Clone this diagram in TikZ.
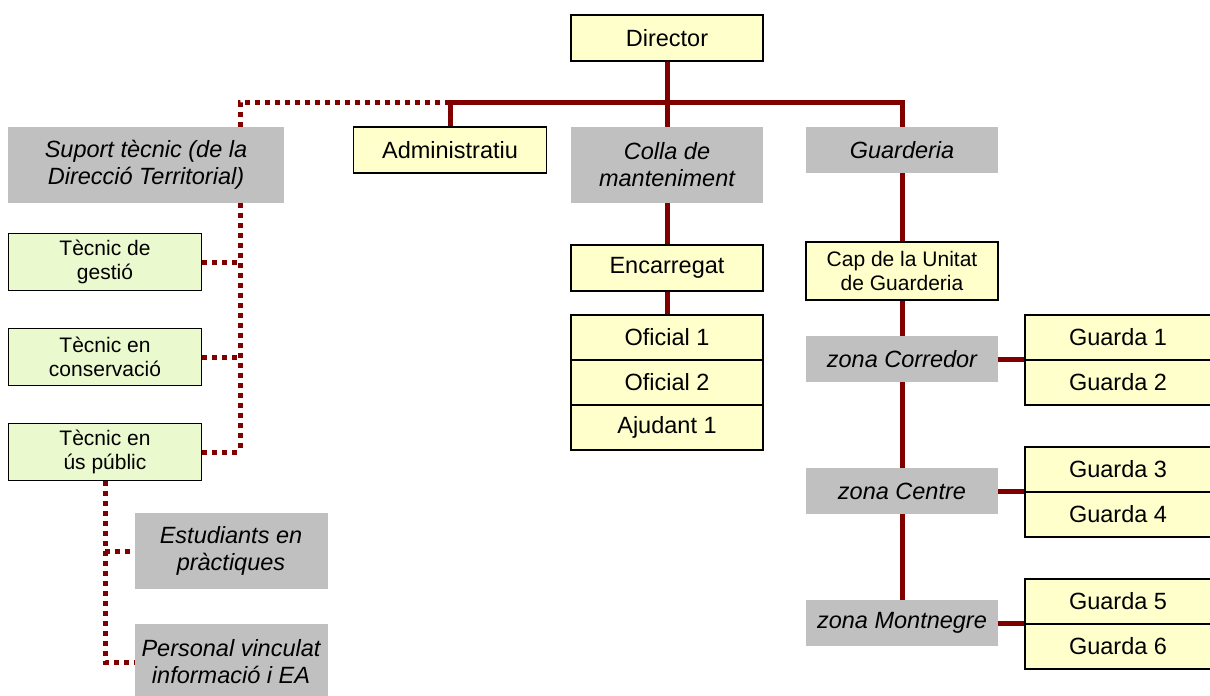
\documentclass[tikz,border=0pt]{standalone}
\usepackage{fontspec}
\setmainfont{Liberation Sans}
\definecolor{linkred}{HTML}{800000}
\definecolor{boxyellow}{HTML}{FFFFCC}
\definecolor{boxgreen}{HTML}{EBF9CF}
\definecolor{boxgrey}{HTML}{C0C0C0}
\begin{document}
\begin{tikzpicture}[x=1pt,y=-1pt,
	every node/.style={align=center,inner sep=2pt,font=\fontsize{23.5}{27}\selectfont},
	post/.style={draw=black,line width=1.5pt,fill=boxyellow,minimum width=192pt,minimum height=46pt},
	tec/.style={draw=black,line width=1.5pt,fill=boxgreen,minimum width=193pt,minimum height=57pt,
		font=\fontsize{21}{23.5}\selectfont},
	unit/.style={fill=boxgrey,minimum width=192pt,minimum height=46pt,
		font=\fontsize{23.5}{27}\selectfont\itshape},
	link/.style={draw=linkred,line width=5pt},
	dotlink/.style={draw=linkred,line width=5pt,dash pattern=on 5pt off 5pt}]
\useasboundingbox (0,0) rectangle (1210,696);
\node[post] (dir) at (667,38) {Director};
\node[post,minimum width=193pt] (adm) at (450,150) {Administratiu};
\node[unit,minimum height=76pt] (colla) at (667,165) {Colla de\\manteniment};
\node[unit] (guard) at (902,150) {Guarderia};
\node[unit,minimum width=276pt,minimum height=76pt] (suport) at (146,165) {Suport tècnic (de la\\Direcció Territorial)};
\node[tec] (tgest) at (105,262) {Tècnic de\\gestió};
\node[tec] (tcons) at (105,357) {Tècnic en\\conservació};
\node[tec] (tus) at (105,452) {Tècnic en\\ús públic};
\node[unit,minimum width=193pt,minimum height=76pt] (est) at (231,551) {Estudiants en\\pràctiques};
\node[unit,minimum width=193pt,minimum height=76pt] (pers) at (231,662) {Personal vinculat\\informació i EA};
\node[post] (enc) at (667,268) {Encarregat};
\node[post,minimum height=45pt] (of1) at (667,337.5) {Oficial 1};
\node[post,minimum height=45pt] (of2) at (667,382.5) {Oficial 2};
\node[post,minimum height=45pt] (aj1) at (667,427.5) {Ajudant 1};
\node[post,minimum height=58pt,font=\fontsize{21}{23.5}\selectfont] (cap) at (902,271) {Cap de la Unitat\\de Guarderia};
\node[unit] (zcor) at (902,359) {zona Corredor};
\node[unit] (zcen) at (902,491) {zona Centre};
\node[unit] (zmon) at (902,623) {zona Montnegre};
\foreach \i/\y in {1/337.5,2/382.5,3/469.5,4/514.5,5/601.5,6/646.5}
	\node[post,minimum width=186pt,minimum height=45pt] (g\i) at (1118,\y) {Guarda \i};
\coordinate (hub) at (667,102);
\coordinate (sbus) at (240,102);
\draw[link] (dir) -- (colla);
\draw[link] (adm.north) |- (hub) -| (guard.north);
\draw[link] (colla) -- (enc) -- (of1);
\draw[link] (guard) -- (cap) -- (zcor) -- (zcen) -- (zmon);
\draw[link] (zcor.east) -- (zcor.east -| g1.west);
\draw[link] (zcen.east) -- (zcen.east -| g3.west);
\draw[link] (zmon.east) -- (zmon.east -| g5.west);
\draw[dotlink] (adm.north |- hub) -- (sbus) -- (sbus |- suport.north);
\draw[dotlink] (sbus |- suport.south) -- (sbus |- tus.east);
\draw[dotlink] (tgest.east) -- (tgest.east -| sbus);
\draw[dotlink] (tcons.east) -- (tcons.east -| sbus);
\draw[dotlink] (tus.east) -- (tus.east -| sbus);
\draw[dotlink] (tus.south) |- (pers.west);
\draw[dotlink] (tus.south |- est.west) -- (est.west);
\end{tikzpicture}
\end{document}
